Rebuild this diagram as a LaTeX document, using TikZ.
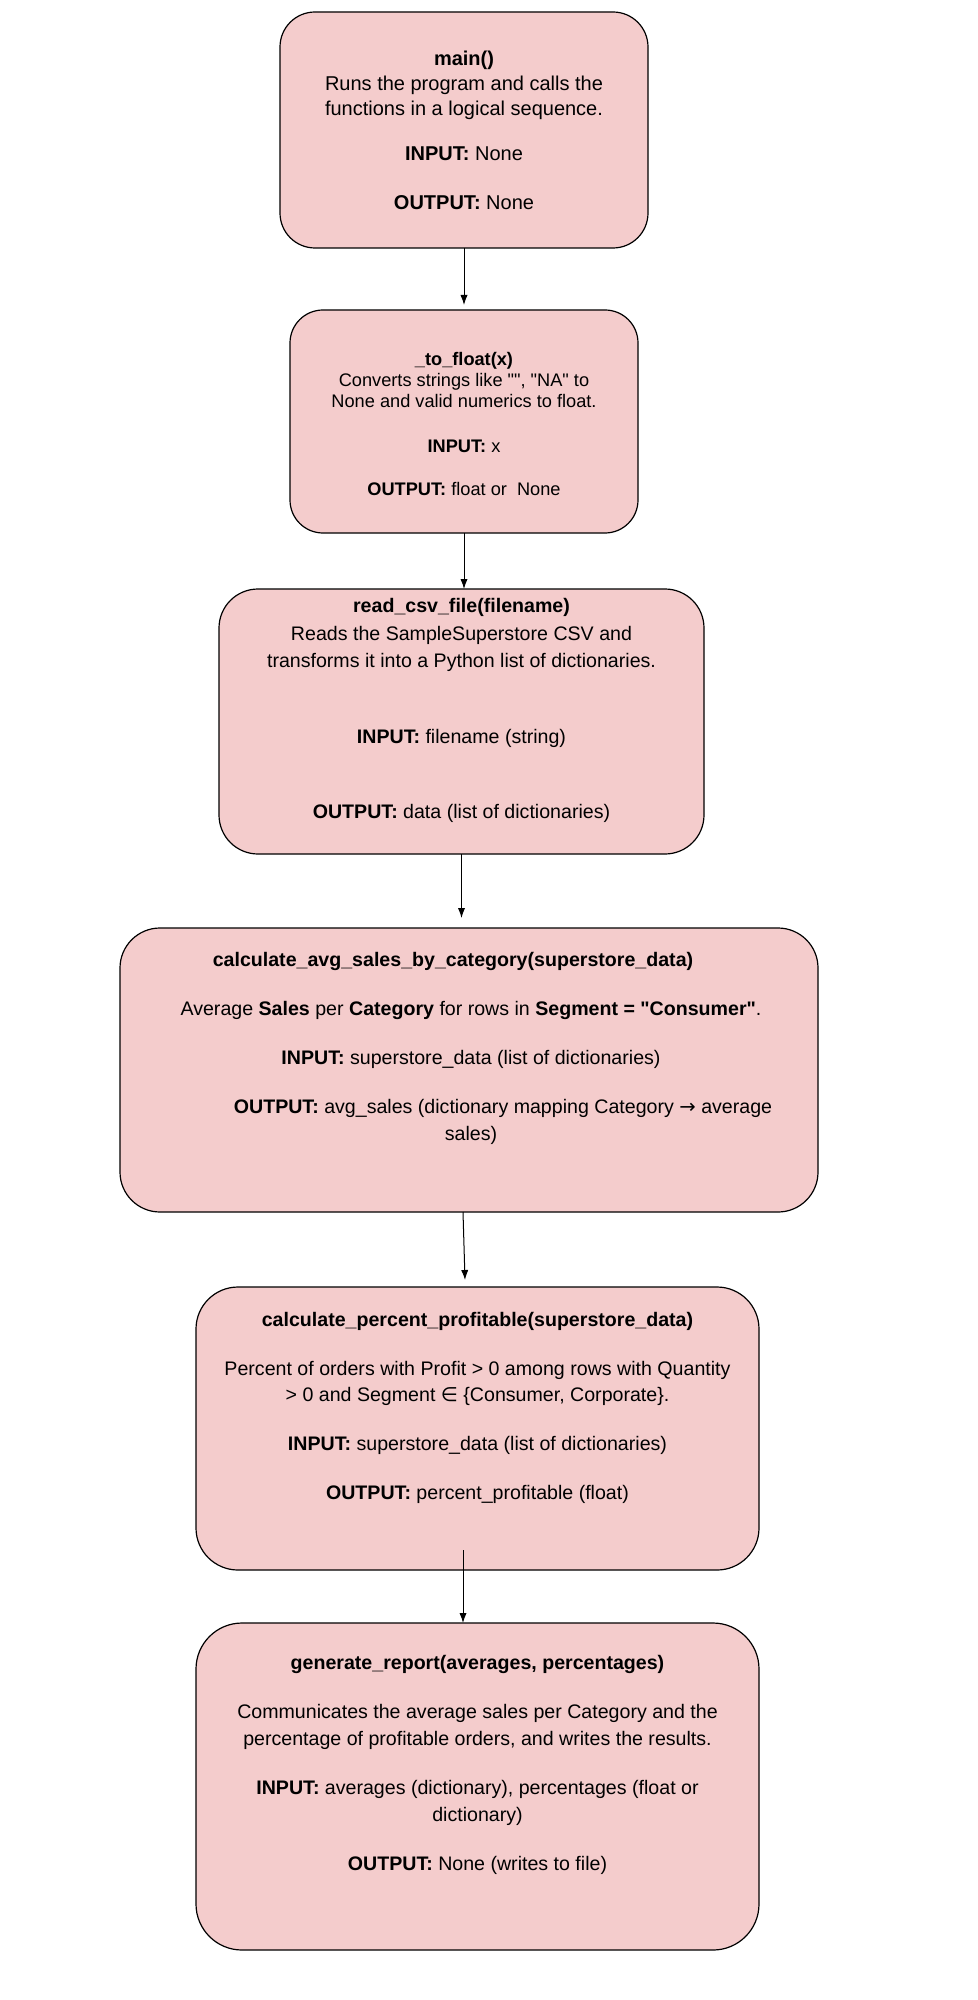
\documentclass[tikz,border=0pt]{standalone}
\usepackage{fontspec}
\setmainfont{Liberation Sans}[Ligatures=TeXOff]
\newfontfamily\symbfont{DejaVu Sans}
\usepackage{xcolor}
\usepackage{tikz}
\usetikzlibrary{positioning,arrows.meta}
\definecolor{boxpink}{HTML}{F4CCCC}

\begin{document}
\begin{tikzpicture}[node distance=30pt, auto]

    % Define styles
    \tikzstyle{func} = [rectangle, draw, fill=boxpink, line width=0.6pt, rounded corners=20pt, inner sep=0pt, outer sep=0pt]
    \tikzstyle{desc} = [align=center, inner sep=0pt, font=\fontsize{9.8}{13.5}\selectfont]
    \tikzstyle{flow} = [line width=0.5pt, -{Latex[length=5pt,width=3.6pt]}]

    \useasboundingbox (0,0) rectangle (489pt,-1000pt);

    % Function boxes
    \node [func, minimum width=184pt, minimum height=118pt, rounded corners=17.5pt] (main) at (232pt,-65pt) {};
    \node [func, below=31pt of main, minimum width=174pt, minimum height=111.5pt, rounded corners=16.5pt] (to_float) {};
    \node [func, below=28pt of to_float, xshift=-1.25pt, minimum width=242.5pt, minimum height=132.5pt, rounded corners=19.5pt] (read_csv) {};
    \node [func, below=37pt of read_csv, xshift=3.75pt, minimum width=349pt, minimum height=142pt, rounded corners=20pt] (avg_sales) {};
    \node [func, below=37.5pt of avg_sales, xshift=4.25pt, minimum width=281.5pt, minimum height=141.5pt, rounded corners=21pt] (pct_profit) {};
    \node [func, below=26.5pt of pct_profit, minimum width=281.5pt, minimum height=163.5pt, rounded corners=23pt] (report) {};

    % Box texts
    \node [desc, font=\fontsize{10}{12.4}\selectfont, below=19.5pt of main.north] (main_txt)
        {\textbf{main()}\\Runs the program and calls the\\functions in a logical sequence.\\[10pt]\textbf{INPUT:} None\\[12pt]\textbf{OUTPUT:} None};
    \node [desc, font=\fontsize{9.1}{10.5}\selectfont, below=21pt of to_float.north] (to_float_txt)
        {\textbf{\_to\_float(x)}\\Converts strings like "", "NA" to\\None and valid numerics to float.\\[12pt]\textbf{INPUT:} x\\[11pt]\textbf{OUTPUT:} float or\ \ None};
    \node [desc, font=\fontsize{9.8}{13.75}\selectfont, below=4.5pt of read_csv.north] (read_csv_txt)
        {\textbf{read\_csv\_file(filename)}\\Reads the SampleSuperstore CSV and\\transforms it into a Python list of dictionaries.\\[24.25pt]\textbf{INPUT:} filename (string)\\[23.75pt]\textbf{OUTPUT:} data (list of dictionaries)};
    \node [desc, below=12pt of avg_sales.north, xshift=1pt] (avg_sales_txt)
        {\textbf{calculate\_avg\_sales\_by\_category(superstore\_data)}\rule{18pt}{0pt}\\[11pt]Average \textbf{Sales} per \textbf{Category} for rows in \textbf{Segment = "Consumer"}.\\[11pt]\textbf{INPUT:} superstore\_data (list of dictionaries)\\[11pt]\rule{32pt}{0pt}\textbf{OUTPUT:} avg\_sales (dictionary mapping Category {\symbfont →} average\\sales)};
    \node [desc, font=\fontsize{9.8}{13}\selectfont, below=12.5pt of pct_profit.north] (pct_profit_txt)
        {\textbf{calculate\_percent\_profitable(superstore\_data)}\\[11.5pt]Percent of orders with Profit > 0 among rows with Quantity\\> 0 and Segment {\symbfont ∈} \{Consumer, Corporate\}.\\[11.5pt]\textbf{INPUT:} superstore\_data (list of dictionaries)\\[11.5pt]\textbf{OUTPUT:} percent\_profitable (float)};
    \node [desc, below=16pt of report.north] (report_txt)
        {\textbf{generate\_report(averages, percentages)}\\[11pt]Communicates the average sales per Category and the\\percentage of profitable orders, and writes the results.\\[11pt]\textbf{INPUT:} averages (dictionary), percentages (float or\\dictionary)\\[11pt]\textbf{OUTPUT:} None (writes to file)};

    % Flows
    \draw [flow] (main.south) -- ([yshift=2.5pt]to_float.north);
    \draw [flow] (to_float.south) -- (to_float.south |- read_csv.north);
    \draw [flow] (read_csv.south) -- ([yshift=5pt]read_csv.south |- avg_sales.north);
    \draw [flow] ([xshift=-3pt]avg_sales.south) -- ([xshift=-6.25pt,yshift=3.5pt]pct_profit.north);
    \draw [flow] ([xshift=-7.25pt,yshift=10pt]pct_profit.south) -- ([xshift=-7.25pt]report.north);

\end{tikzpicture}
\end{document}
